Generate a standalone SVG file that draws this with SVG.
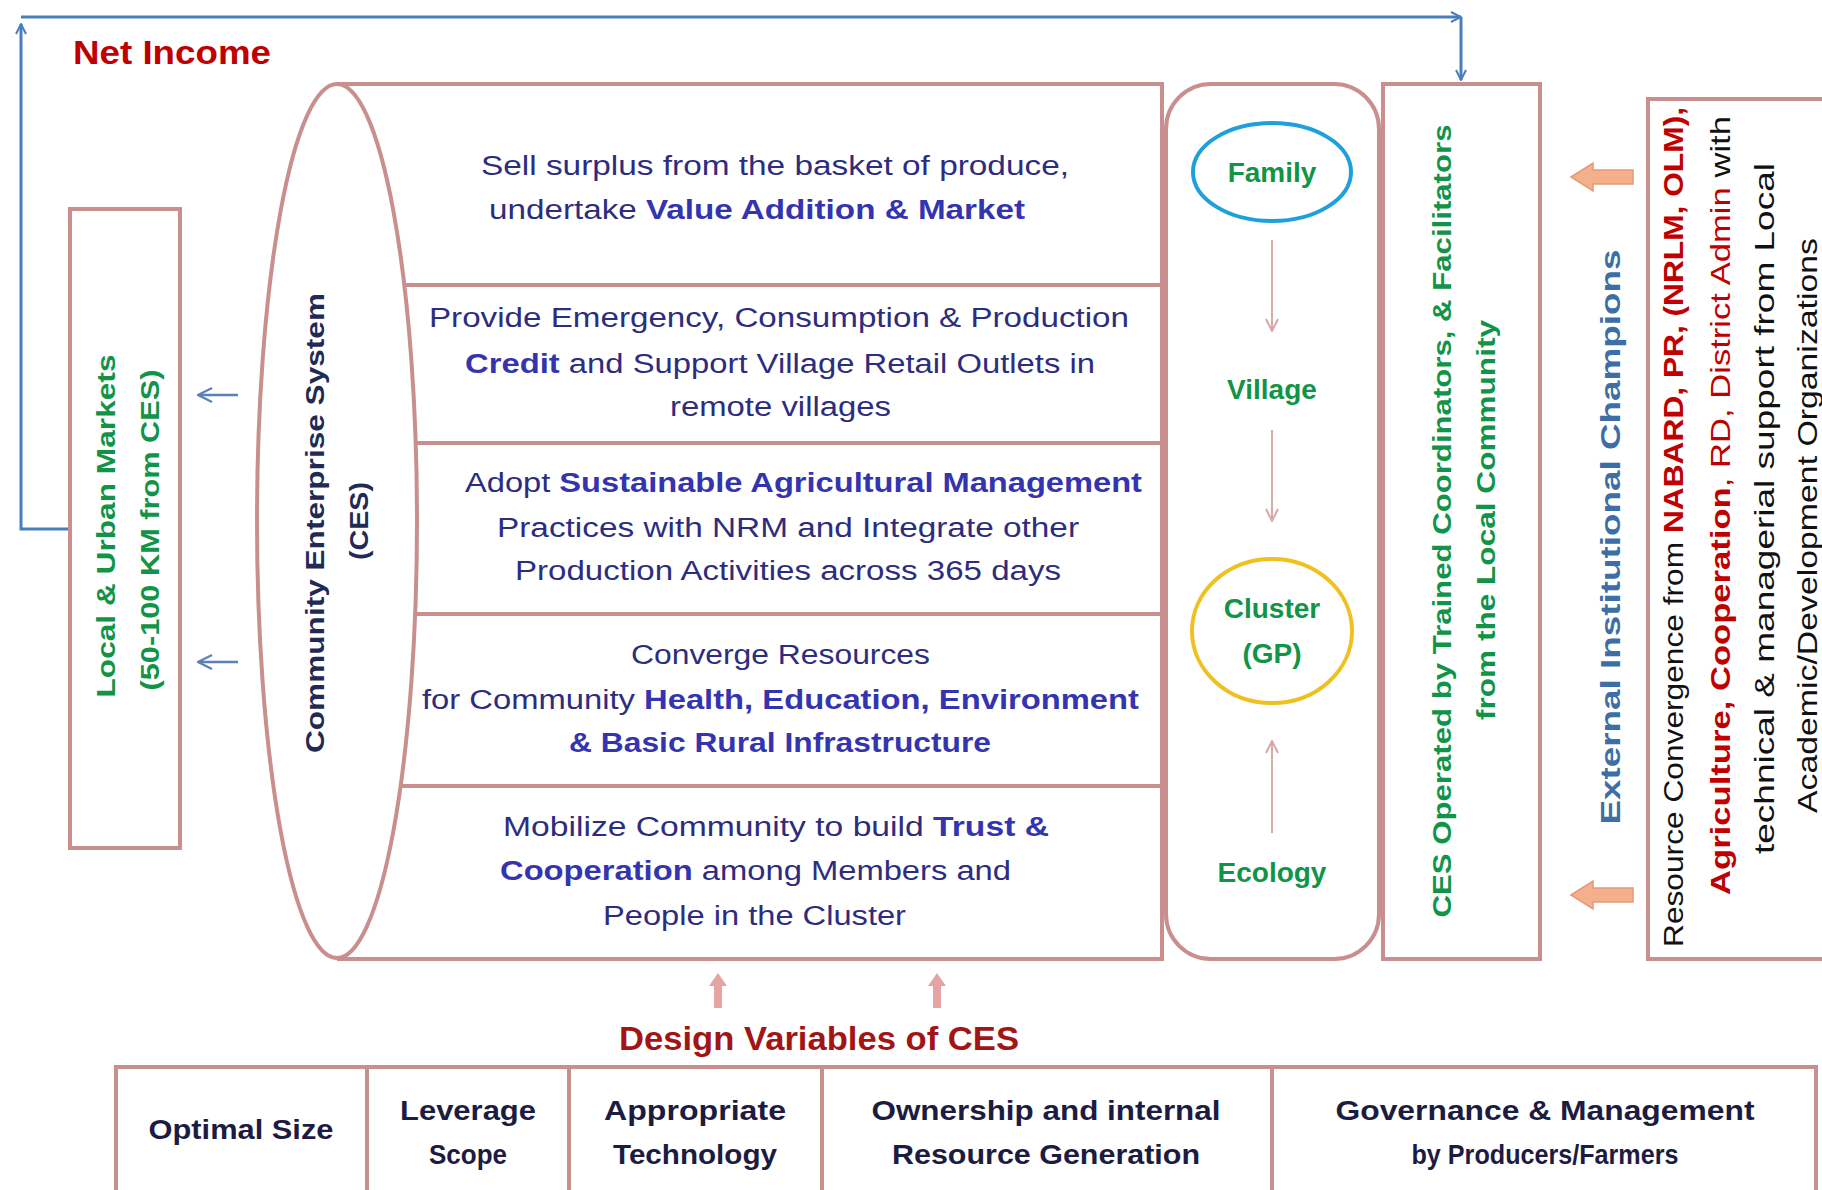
<svg xmlns="http://www.w3.org/2000/svg" width="1822" height="1190" viewBox="0 0 1822 1190">
<style>
.box{fill:none;stroke:#C98E8E;stroke-width:4}
.conn{fill:none;stroke:#4A7EBB;stroke-width:3}
.pk{fill:none;stroke:#D9A9A9;stroke-width:2}
.t{font-family:"Liberation Sans",Arial,sans-serif}
.row{font-family:"Liberation Sans",Arial,sans-serif;font-size:27px;fill:#2D2D80}
.b{font-weight:bold;fill:#3434B0}
.gr{font-family:"Liberation Sans",Arial,sans-serif;font-weight:bold;fill:#119447}
.tbl{font-family:"Liberation Sans",Arial,sans-serif;font-size:28px;font-weight:bold;fill:#1C1C42;text-anchor:middle}
.rb{font-family:"Liberation Sans",Arial,sans-serif;font-size:28px;fill:#111}
.red{fill:#C00000;font-weight:bold}
</style>
<defs>
<marker id="ab" viewBox="0 0 12 12" refX="11" refY="6" markerWidth="12" markerHeight="12" markerUnits="userSpaceOnUse" orient="auto">
<path d="M1,1 L11,6 L1,11" fill="none" stroke="#4A7EBB" stroke-width="2"/>
</marker>
<marker id="ap" viewBox="0 0 14 14" refX="13" refY="7" markerWidth="14" markerHeight="14" markerUnits="userSpaceOnUse" orient="auto">
<path d="M1,1 L13,7 L1,13" fill="none" stroke="#D9A9A9" stroke-width="2"/>
</marker>
<marker id="ab2" viewBox="0 0 16 16" refX="15" refY="8" markerWidth="16" markerHeight="16" markerUnits="userSpaceOnUse" orient="auto">
<path d="M1,1 L15,8 L1,15" fill="none" stroke="#5B82B8" stroke-width="2.2"/>
</marker>
</defs>
<rect width="1822" height="1190" fill="#FFFFFF"/>

<g id="connectors">
<path class="conn" d="M70,529 L21,529 L21,24" marker-end="url(#ab)"/>
<path class="conn" d="M21,17 L1461,17" marker-end="url(#ab)"/>
<path class="conn" d="M1461,17 L1461,80" marker-end="url(#ab)"/>
<path d="M238,395 L198,395" fill="none" stroke="#5B82B8" stroke-width="2.5" marker-end="url(#ab2)"/>
<path d="M238,662 L198,662" fill="none" stroke="#5B82B8" stroke-width="2.5" marker-end="url(#ab2)"/>
<path class="pk" d="M1272,240 L1272,331" marker-end="url(#ap)"/>
<path class="pk" d="M1272,430 L1272,521" marker-end="url(#ap)"/>
<path class="pk" d="M1272,833 L1272,741" marker-end="url(#ap)"/>
<polygon points="1571,177 1593,163 1593,170 1633,170 1633,184 1593,184 1593,191" fill="#F4B08A" stroke="#E39A78" stroke-width="1.5"/>
<polygon points="1571,895 1593,881 1593,888 1633,888 1633,902 1593,902 1593,909" fill="#F4B08A" stroke="#E39A78" stroke-width="1.5"/>
<polygon points="718,973 727,986 722,986 722,1008 714,1008 714,986 709,986" fill="#E6A3A3"/>
<polygon points="937,973 946,986 941,986 941,1008 933,1008 933,986 928,986" fill="#E6A3A3"/>
</g>

<g id="net-income">
<text class="t" x="73" y="64" font-size="34" font-weight="bold" fill="#C00000" textLength="198" lengthAdjust="spacingAndGlyphs">Net Income</text>
</g>

<g id="markets">
<rect class="box" x="70" y="209" width="110" height="639"/>
<text class="gr" font-size="25" text-anchor="middle" transform="translate(115,526) rotate(-90)" textLength="343" lengthAdjust="spacingAndGlyphs">Local &amp; Urban Markets</text>
<text class="gr" font-size="25" text-anchor="middle" transform="translate(159,530) rotate(-90)" textLength="321" lengthAdjust="spacingAndGlyphs">(50-100 KM from CES)</text>
</g>

<g id="ces">
<ellipse class="box" cx="337" cy="521" rx="80" ry="437"/>
<text class="t" font-size="26" font-weight="bold" fill="#1F2A55" text-anchor="middle" transform="translate(324,523) rotate(-90)" textLength="460" lengthAdjust="spacingAndGlyphs">Community Enterprise System</text>
<text class="t" font-size="26" font-weight="bold" fill="#1F2A55" text-anchor="middle" transform="translate(368,521) rotate(-90)" textLength="78" lengthAdjust="spacingAndGlyphs">(CES)</text>
</g>

<g id="activities">
<path class="box" d="M337,84 L1162,84 L1162,959 L337,959"/>
<path class="box" d="M403,285 L1162,285 M415,443 L1162,443 M414,614 L1162,614 M400,786 L1162,786"/>
<text class="row" x="481" y="175" textLength="588" lengthAdjust="spacingAndGlyphs">Sell surplus from the basket of produce,</text>
<text class="row" x="489" y="219" textLength="536" lengthAdjust="spacingAndGlyphs">undertake <tspan class="b">Value Addition &amp; Market</tspan></text>
<text class="row" x="429" y="327" textLength="700" lengthAdjust="spacingAndGlyphs">Provide Emergency, Consumption &amp; Production</text>
<text class="row" x="465" y="373" textLength="630" lengthAdjust="spacingAndGlyphs"><tspan class="b">Credit</tspan> and Support Village Retail Outlets in</text>
<text class="row" x="670" y="416" textLength="221" lengthAdjust="spacingAndGlyphs">remote villages</text>
<text class="row" x="465" y="492" textLength="677" lengthAdjust="spacingAndGlyphs">Adopt <tspan class="b">Sustainable Agricultural Management</tspan></text>
<text class="row" x="497" y="537" textLength="582" lengthAdjust="spacingAndGlyphs">Practices with NRM and Integrate other</text>
<text class="row" x="515" y="580" textLength="546" lengthAdjust="spacingAndGlyphs">Production Activities across 365 days</text>
<text class="row" x="631" y="664" textLength="299" lengthAdjust="spacingAndGlyphs">Converge Resources</text>
<text class="row" x="422" y="709" textLength="717" lengthAdjust="spacingAndGlyphs">for Community <tspan class="b">Health, Education, Environment</tspan></text>
<text class="row" x="569" y="752" textLength="422" lengthAdjust="spacingAndGlyphs"><tspan class="b">&amp; Basic Rural Infrastructure</tspan></text>
<text class="row" x="503" y="836" textLength="546" lengthAdjust="spacingAndGlyphs">Mobilize Community to build <tspan class="b">Trust &amp;</tspan></text>
<text class="row" x="500" y="880" textLength="511" lengthAdjust="spacingAndGlyphs"><tspan class="b">Cooperation</tspan> among Members and</text>
<text class="row" x="603" y="925" textLength="303" lengthAdjust="spacingAndGlyphs">People in the Cluster</text>
</g>

<g id="levels">
<rect class="box" x="1166" y="84" width="213" height="875" rx="45" ry="45"/>
<ellipse cx="1272" cy="172" rx="79" ry="49" fill="none" stroke="#1FA0DC" stroke-width="4"/>
<text class="gr" x="1272" y="182" font-size="28" text-anchor="middle">Family</text>
<text class="gr" x="1272" y="399" font-size="28" text-anchor="middle">Village</text>
<ellipse cx="1272" cy="631" rx="80" ry="72" fill="none" stroke="#F0C020" stroke-width="4"/>
<text class="gr" x="1272" y="618" font-size="28" text-anchor="middle">Cluster</text>
<text class="gr" x="1272" y="663" font-size="28" text-anchor="middle">(GP)</text>
<text class="gr" x="1272" y="882" font-size="28" text-anchor="middle">Ecology</text>
</g>

<g id="operated">
<rect class="box" x="1383" y="84" width="157" height="875"/>
<text class="gr" font-size="26" text-anchor="middle" transform="translate(1451,521) rotate(-90)" textLength="793" lengthAdjust="spacingAndGlyphs">CES Operated by Trained Coordinators, &amp; Facilitators</text>
<text class="gr" font-size="26" text-anchor="middle" transform="translate(1495,520) rotate(-90)" textLength="400" lengthAdjust="spacingAndGlyphs">from the Local Community</text>
</g>

<g id="champions">
<text class="t" font-size="28" font-weight="bold" fill="#3D6FA6" text-anchor="middle" transform="translate(1620,537) rotate(-90)" textLength="575" lengthAdjust="spacingAndGlyphs">External Institutional Champions</text>
</g>

<g id="resources">
<rect class="box" x="1648" y="99" width="190" height="860"/>
<text class="rb" transform="translate(1683,947) rotate(-90)" textLength="840" lengthAdjust="spacingAndGlyphs">Resource Convergence from <tspan class="red">NABARD, PR, (NRLM, OLM),</tspan></text>
<text class="rb" transform="translate(1730,895) rotate(-90)" textLength="779" lengthAdjust="spacingAndGlyphs"><tspan class="red">Agriculture, Cooperation</tspan><tspan fill="#C00000">, RD, District Admin</tspan> with</text>
<text class="rb" transform="translate(1774,854) rotate(-90)" textLength="691" lengthAdjust="spacingAndGlyphs">technical &amp;  managerial support from Local</text>
<text class="rb" transform="translate(1817,813) rotate(-90)" textLength="575" lengthAdjust="spacingAndGlyphs">Academic/Development Organizations</text>
</g>

<g id="design-title">
<text class="t" x="619" y="1050" font-size="34" font-weight="bold" fill="#A31515" textLength="400" lengthAdjust="spacingAndGlyphs">Design Variables of CES</text>
</g>

<g id="design-table">
<path class="box" d="M116,1200 L116,1067 L1816,1067 L1816,1200 M367,1067 L367,1200 M569,1067 L569,1200 M822,1067 L822,1200 M1272,1067 L1272,1200"/>
<text class="tbl" x="241" y="1139" textLength="185" lengthAdjust="spacingAndGlyphs">Optimal Size</text>
<text class="tbl" x="468" y="1120" textLength="136" lengthAdjust="spacingAndGlyphs">Leverage</text>
<text class="tbl" x="468" y="1164" textLength="78" lengthAdjust="spacingAndGlyphs">Scope</text>
<text class="tbl" x="695" y="1120" textLength="182" lengthAdjust="spacingAndGlyphs">Appropriate</text>
<text class="tbl" x="695" y="1164" textLength="164" lengthAdjust="spacingAndGlyphs">Technology</text>
<text class="tbl" x="1046" y="1120" textLength="349" lengthAdjust="spacingAndGlyphs">Ownership and internal</text>
<text class="tbl" x="1046" y="1164" textLength="308" lengthAdjust="spacingAndGlyphs">Resource Generation</text>
<text class="tbl" x="1545" y="1120" textLength="419" lengthAdjust="spacingAndGlyphs">Governance &amp; Management</text>
<text class="tbl" x="1545" y="1164" textLength="267" lengthAdjust="spacingAndGlyphs">by Producers/Farmers</text>
</g>
</svg>
